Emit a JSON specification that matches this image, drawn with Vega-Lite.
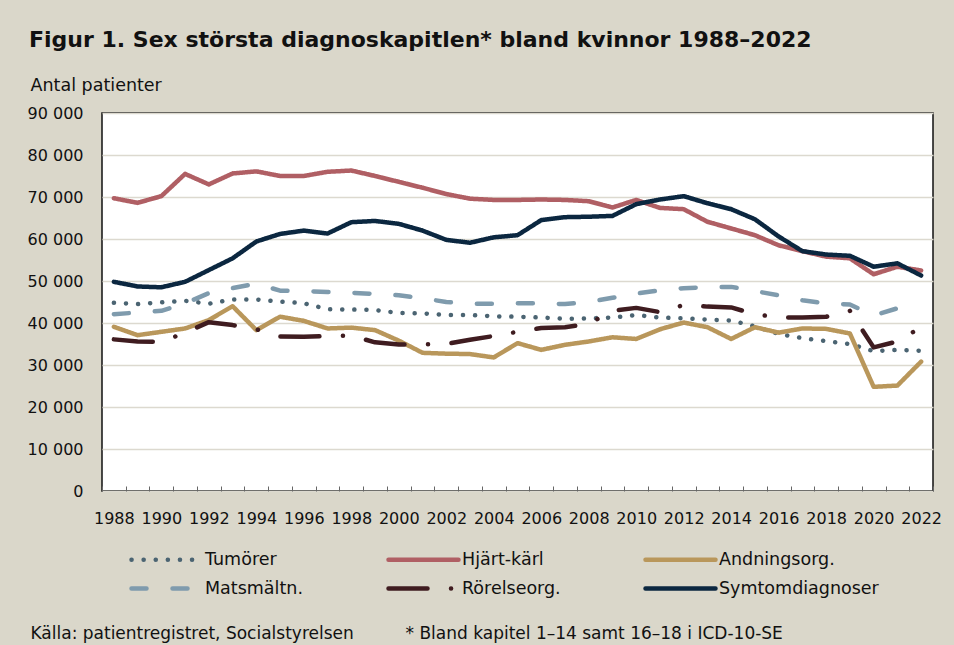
{
  "$schema": "https://vega.github.io/schema/vega-lite/v6.json",
  "width": 831,
  "height": 378,
  "autosize": {"type": "none"},
  "padding": {"left": 102, "top": 113, "right": 21, "bottom": 154},
  "background": "#dad7ca",
  "title": {
    "text": "Figur 1. Sex största diagnoskapitlen* bland kvinnor 1988–2022",
    "anchor": "start",
    "frame": "bounds",
    "font": "DejaVu Sans",
    "fontSize": 22,
    "fontWeight": "bold",
    "color": "#111111",
    "dx": 2,
    "dy": -20
  },
  "datasets": {
    "rows": [
      {"year": 1988, "series": "Tumörer", "value": 44800}, {"year": 1988, "series": "Hjärt-kärl", "value": 69700}, {"year": 1988, "series": "Andningsorg.", "value": 39100}, {"year": 1988, "series": "Matsmältn.", "value": 42100}, {"year": 1988, "series": "Rörelseorg.", "value": 36100}, {"year": 1988, "series": "Symtomdiagnoser", "value": 49800},
      {"year": 1989, "series": "Tumörer", "value": 44500}, {"year": 1989, "series": "Hjärt-kärl", "value": 68600}, {"year": 1989, "series": "Andningsorg.", "value": 37100}, {"year": 1989, "series": "Matsmältn.", "value": 42500}, {"year": 1989, "series": "Rörelseorg.", "value": 35600}, {"year": 1989, "series": "Symtomdiagnoser", "value": 48700},
      {"year": 1990, "series": "Tumörer", "value": 44900}, {"year": 1990, "series": "Hjärt-kärl", "value": 70200}, {"year": 1990, "series": "Andningsorg.", "value": 37900}, {"year": 1990, "series": "Matsmältn.", "value": 42900}, {"year": 1990, "series": "Rörelseorg.", "value": 35500}, {"year": 1990, "series": "Symtomdiagnoser", "value": 48500},
      {"year": 1991, "series": "Tumörer", "value": 45300}, {"year": 1991, "series": "Hjärt-kärl", "value": 75500}, {"year": 1991, "series": "Andningsorg.", "value": 38700}, {"year": 1991, "series": "Matsmältn.", "value": 44700}, {"year": 1991, "series": "Rörelseorg.", "value": 37700}, {"year": 1991, "series": "Symtomdiagnoser", "value": 49800},
      {"year": 1992, "series": "Tumörer", "value": 44600}, {"year": 1992, "series": "Hjärt-kärl", "value": 73000}, {"year": 1992, "series": "Andningsorg.", "value": 40700}, {"year": 1992, "series": "Matsmältn.", "value": 47100}, {"year": 1992, "series": "Rörelseorg.", "value": 40200}, {"year": 1992, "series": "Symtomdiagnoser", "value": 52600},
      {"year": 1993, "series": "Tumörer", "value": 45600}, {"year": 1993, "series": "Hjärt-kärl", "value": 75600}, {"year": 1993, "series": "Andningsorg.", "value": 44000}, {"year": 1993, "series": "Matsmältn.", "value": 48300}, {"year": 1993, "series": "Rörelseorg.", "value": 39500}, {"year": 1993, "series": "Symtomdiagnoser", "value": 55400},
      {"year": 1994, "series": "Tumörer", "value": 45600}, {"year": 1994, "series": "Hjärt-kärl", "value": 76100}, {"year": 1994, "series": "Andningsorg.", "value": 38300}, {"year": 1994, "series": "Matsmältn.", "value": 49400}, {"year": 1994, "series": "Rörelseorg.", "value": 38500}, {"year": 1994, "series": "Symtomdiagnoser", "value": 59400},
      {"year": 1995, "series": "Tumörer", "value": 45100}, {"year": 1995, "series": "Hjärt-kärl", "value": 75000}, {"year": 1995, "series": "Andningsorg.", "value": 41500}, {"year": 1995, "series": "Matsmältn.", "value": 47700}, {"year": 1995, "series": "Rörelseorg.", "value": 36800}, {"year": 1995, "series": "Symtomdiagnoser", "value": 61200},
      {"year": 1996, "series": "Tumörer", "value": 44700}, {"year": 1996, "series": "Hjärt-kärl", "value": 75000}, {"year": 1996, "series": "Andningsorg.", "value": 40500}, {"year": 1996, "series": "Matsmältn.", "value": 47600}, {"year": 1996, "series": "Rörelseorg.", "value": 36700}, {"year": 1996, "series": "Symtomdiagnoser", "value": 62000},
      {"year": 1997, "series": "Tumörer", "value": 43300}, {"year": 1997, "series": "Hjärt-kärl", "value": 76000}, {"year": 1997, "series": "Andningsorg.", "value": 38700}, {"year": 1997, "series": "Matsmältn.", "value": 47400}, {"year": 1997, "series": "Rörelseorg.", "value": 36900}, {"year": 1997, "series": "Symtomdiagnoser", "value": 61300},
      {"year": 1998, "series": "Tumörer", "value": 43200}, {"year": 1998, "series": "Hjärt-kärl", "value": 76300}, {"year": 1998, "series": "Andningsorg.", "value": 38900}, {"year": 1998, "series": "Matsmältn.", "value": 47200}, {"year": 1998, "series": "Rörelseorg.", "value": 37000}, {"year": 1998, "series": "Symtomdiagnoser", "value": 64000},
      {"year": 1999, "series": "Tumörer", "value": 43100}, {"year": 1999, "series": "Hjärt-kärl", "value": 75000}, {"year": 1999, "series": "Andningsorg.", "value": 38300}, {"year": 1999, "series": "Matsmältn.", "value": 46900}, {"year": 1999, "series": "Rörelseorg.", "value": 35400}, {"year": 1999, "series": "Symtomdiagnoser", "value": 64300},
      {"year": 2000, "series": "Tumörer", "value": 42400}, {"year": 2000, "series": "Hjärt-kärl", "value": 73600}, {"year": 2000, "series": "Andningsorg.", "value": 35800}, {"year": 2000, "series": "Matsmältn.", "value": 46600}, {"year": 2000, "series": "Rörelseorg.", "value": 34900}, {"year": 2000, "series": "Symtomdiagnoser", "value": 63600},
      {"year": 2001, "series": "Tumörer", "value": 42300}, {"year": 2001, "series": "Hjärt-kärl", "value": 72200}, {"year": 2001, "series": "Andningsorg.", "value": 32900}, {"year": 2001, "series": "Matsmältn.", "value": 45900}, {"year": 2001, "series": "Rörelseorg.", "value": 34900}, {"year": 2001, "series": "Symtomdiagnoser", "value": 62000},
      {"year": 2002, "series": "Tumörer", "value": 41900}, {"year": 2002, "series": "Hjärt-kärl", "value": 70700}, {"year": 2002, "series": "Andningsorg.", "value": 32700}, {"year": 2002, "series": "Matsmältn.", "value": 45000}, {"year": 2002, "series": "Rörelseorg.", "value": 35000}, {"year": 2002, "series": "Symtomdiagnoser", "value": 59800},
      {"year": 2003, "series": "Tumörer", "value": 41900}, {"year": 2003, "series": "Hjärt-kärl", "value": 69600}, {"year": 2003, "series": "Andningsorg.", "value": 32600}, {"year": 2003, "series": "Matsmältn.", "value": 44600}, {"year": 2003, "series": "Rörelseorg.", "value": 36000}, {"year": 2003, "series": "Symtomdiagnoser", "value": 59100},
      {"year": 2004, "series": "Tumörer", "value": 41600}, {"year": 2004, "series": "Hjärt-kärl", "value": 69300}, {"year": 2004, "series": "Andningsorg.", "value": 31800}, {"year": 2004, "series": "Matsmältn.", "value": 44600}, {"year": 2004, "series": "Rörelseorg.", "value": 36900}, {"year": 2004, "series": "Symtomdiagnoser", "value": 60400},
      {"year": 2005, "series": "Tumörer", "value": 41500}, {"year": 2005, "series": "Hjärt-kärl", "value": 69300}, {"year": 2005, "series": "Andningsorg.", "value": 35200}, {"year": 2005, "series": "Matsmältn.", "value": 44700}, {"year": 2005, "series": "Rörelseorg.", "value": 37900}, {"year": 2005, "series": "Symtomdiagnoser", "value": 60900},
      {"year": 2006, "series": "Tumörer", "value": 41300}, {"year": 2006, "series": "Hjärt-kärl", "value": 69400}, {"year": 2006, "series": "Andningsorg.", "value": 33600}, {"year": 2006, "series": "Matsmältn.", "value": 44700}, {"year": 2006, "series": "Rörelseorg.", "value": 38800}, {"year": 2006, "series": "Symtomdiagnoser", "value": 64500},
      {"year": 2007, "series": "Tumörer", "value": 41000}, {"year": 2007, "series": "Hjärt-kärl", "value": 69300}, {"year": 2007, "series": "Andningsorg.", "value": 34800}, {"year": 2007, "series": "Matsmältn.", "value": 44500}, {"year": 2007, "series": "Rörelseorg.", "value": 39000}, {"year": 2007, "series": "Symtomdiagnoser", "value": 65200},
      {"year": 2008, "series": "Tumörer", "value": 41100}, {"year": 2008, "series": "Hjärt-kärl", "value": 69000}, {"year": 2008, "series": "Andningsorg.", "value": 35600}, {"year": 2008, "series": "Matsmältn.", "value": 45000}, {"year": 2008, "series": "Rörelseorg.", "value": 39800}, {"year": 2008, "series": "Symtomdiagnoser", "value": 65300},
      {"year": 2009, "series": "Tumörer", "value": 41300}, {"year": 2009, "series": "Hjärt-kärl", "value": 67500}, {"year": 2009, "series": "Andningsorg.", "value": 36600}, {"year": 2009, "series": "Matsmältn.", "value": 46000}, {"year": 2009, "series": "Rörelseorg.", "value": 42900}, {"year": 2009, "series": "Symtomdiagnoser", "value": 65500},
      {"year": 2010, "series": "Tumörer", "value": 41900}, {"year": 2010, "series": "Hjärt-kärl", "value": 69300}, {"year": 2010, "series": "Andningsorg.", "value": 36200}, {"year": 2010, "series": "Matsmältn.", "value": 47000}, {"year": 2010, "series": "Rörelseorg.", "value": 43600}, {"year": 2010, "series": "Symtomdiagnoser", "value": 68300},
      {"year": 2011, "series": "Tumörer", "value": 41300}, {"year": 2011, "series": "Hjärt-kärl", "value": 67400}, {"year": 2011, "series": "Andningsorg.", "value": 38500}, {"year": 2011, "series": "Matsmältn.", "value": 47800}, {"year": 2011, "series": "Rörelseorg.", "value": 42600}, {"year": 2011, "series": "Symtomdiagnoser", "value": 69400},
      {"year": 2012, "series": "Tumörer", "value": 41100}, {"year": 2012, "series": "Hjärt-kärl", "value": 67100}, {"year": 2012, "series": "Andningsorg.", "value": 40100}, {"year": 2012, "series": "Matsmältn.", "value": 48300}, {"year": 2012, "series": "Rörelseorg.", "value": 44300}, {"year": 2012, "series": "Symtomdiagnoser", "value": 70200},
      {"year": 2013, "series": "Tumörer", "value": 40800}, {"year": 2013, "series": "Hjärt-kärl", "value": 64100}, {"year": 2013, "series": "Andningsorg.", "value": 39000}, {"year": 2013, "series": "Matsmältn.", "value": 48500}, {"year": 2013, "series": "Rörelseorg.", "value": 43900}, {"year": 2013, "series": "Symtomdiagnoser", "value": 68500},
      {"year": 2014, "series": "Tumörer", "value": 40600}, {"year": 2014, "series": "Hjärt-kärl", "value": 62500}, {"year": 2014, "series": "Andningsorg.", "value": 36200}, {"year": 2014, "series": "Matsmältn.", "value": 48600}, {"year": 2014, "series": "Rörelseorg.", "value": 43700}, {"year": 2014, "series": "Symtomdiagnoser", "value": 67100},
      {"year": 2015, "series": "Tumörer", "value": 39200}, {"year": 2015, "series": "Hjärt-kärl", "value": 60900}, {"year": 2015, "series": "Andningsorg.", "value": 39000}, {"year": 2015, "series": "Matsmältn.", "value": 47600}, {"year": 2015, "series": "Rörelseorg.", "value": 42100}, {"year": 2015, "series": "Symtomdiagnoser", "value": 64700},
      {"year": 2016, "series": "Tumörer", "value": 37400}, {"year": 2016, "series": "Hjärt-kärl", "value": 58500}, {"year": 2016, "series": "Andningsorg.", "value": 37700}, {"year": 2016, "series": "Matsmältn.", "value": 46600}, {"year": 2016, "series": "Rörelseorg.", "value": 41300}, {"year": 2016, "series": "Symtomdiagnoser", "value": 60600},
      {"year": 2017, "series": "Tumörer", "value": 36400}, {"year": 2017, "series": "Hjärt-kärl", "value": 57100}, {"year": 2017, "series": "Andningsorg.", "value": 38700}, {"year": 2017, "series": "Matsmältn.", "value": 45400}, {"year": 2017, "series": "Rörelseorg.", "value": 41300}, {"year": 2017, "series": "Symtomdiagnoser", "value": 57100},
      {"year": 2018, "series": "Tumörer", "value": 35700}, {"year": 2018, "series": "Hjärt-kärl", "value": 55800}, {"year": 2018, "series": "Andningsorg.", "value": 38600}, {"year": 2018, "series": "Matsmältn.", "value": 44700}, {"year": 2018, "series": "Rörelseorg.", "value": 41500}, {"year": 2018, "series": "Symtomdiagnoser", "value": 56300},
      {"year": 2019, "series": "Tumörer", "value": 35000}, {"year": 2019, "series": "Hjärt-kärl", "value": 55400}, {"year": 2019, "series": "Andningsorg.", "value": 37500}, {"year": 2019, "series": "Matsmältn.", "value": 44400}, {"year": 2019, "series": "Rörelseorg.", "value": 42900}, {"year": 2019, "series": "Symtomdiagnoser", "value": 56000},
      {"year": 2020, "series": "Tumörer", "value": 33300}, {"year": 2020, "series": "Hjärt-kärl", "value": 51600}, {"year": 2020, "series": "Andningsorg.", "value": 24800}, {"year": 2020, "series": "Matsmältn.", "value": 41800}, {"year": 2020, "series": "Rörelseorg.", "value": 34200}, {"year": 2020, "series": "Symtomdiagnoser", "value": 53400},
      {"year": 2021, "series": "Tumörer", "value": 33600}, {"year": 2021, "series": "Hjärt-kärl", "value": 53400}, {"year": 2021, "series": "Andningsorg.", "value": 25100}, {"year": 2021, "series": "Matsmältn.", "value": 43500}, {"year": 2021, "series": "Rörelseorg.", "value": 35600}, {"year": 2021, "series": "Symtomdiagnoser", "value": 54200},
      {"year": 2022, "series": "Tumörer", "value": 33400}, {"year": 2022, "series": "Hjärt-kärl", "value": 52500}, {"year": 2022, "series": "Andningsorg.", "value": 30800}, {"year": 2022, "series": "Matsmältn.", "value": 43200}, {"year": 2022, "series": "Rörelseorg.", "value": 39000}, {"year": 2022, "series": "Symtomdiagnoser", "value": 51300}
    ]
  },
  "data": {"name": "rows"},
  "layer": [
    {
      "mark": {"type": "line", "strokeWidth": 4.5, "strokeCap": "round", "strokeJoin": "round"},
      "encoding": {
        "x": {
          "field": "year",
          "type": "ordinal",
          "scale": {"type": "band", "paddingInner": 0, "paddingOuter": 0},
          "axis": {
            "title": "Källa: patientregistret, Socialstyrelsen",
            "titleX": -72,
            "titleY": 147,
            "titleAlign": "left",
            "titleAnchor": "start",
            "titleBaseline": "alphabetic",
            "titleFont": "DejaVu Sans",
            "titleFontSize": 17,
            "titleFontWeight": "normal",
            "titleColor": "#111111",
            "tickBand": "extent",
            "tickSize": -5,
            "tickColor": "#666666",
            "tickWidth": 1,
            "domain": false,
            "labelAngle": 0,
            "labelOverlap": false,
            "labelExpr": "datum.value % 2 == 0 ? datum.label : ''",
            "labelPadding": 24,
            "labelFont": "DejaVu Sans",
            "labelFontSize": 16,
            "labelColor": "#111111"
          }
        },
        "y": {
          "field": "value",
          "type": "quantitative",
          "scale": {"domain": [0, 90000], "nice": false},
          "axis": {
            "title": "Antal patienter",
            "titleAngle": 0,
            "titleAlign": "left",
            "titleAnchor": "start",
            "titleBaseline": "alphabetic",
            "titleX": -72,
            "titleY": -23,
            "titleFont": "DejaVu Sans",
            "titleFontSize": 17.5,
            "titleFontWeight": "normal",
            "titleColor": "#111111",
            "values": [0, 10000, 20000, 30000, 40000, 50000, 60000, 70000, 80000, 90000],
            "labelExpr": "replace(format(datum.value, ',d'), ',', ' ')",
            "ticks": false,
            "domain": false,
            "labelPadding": 19,
            "labelFont": "DejaVu Sans",
            "labelFontSize": 16,
            "labelColor": "#111111",
            "grid": true,
            "gridColor": "#dcd9cf",
            "gridWidth": 1.5
          }
        },
        "color": {
          "field": "series",
          "type": "nominal",
          "scale": {
            "domain": ["Tumörer", "Hjärt-kärl", "Andningsorg.", "Matsmältn.", "Rörelseorg.", "Symtomdiagnoser"],
            "range": ["#4b6472", "#b05f64", "#b9975b", "#7f9bad", "#3f1c20", "#0b2740"]
          },
          "legend": {
            "title": null,
            "orient": "none",
            "legendX": 52,
            "legendY": 434,
            "direction": "horizontal",
            "columns": 3,
            "gridAlign": "all",
            "columnPadding": 14,
            "rowPadding": 7,
            "padding": 0,
            "symbolType": "M-3.5,0H3.5",
            "symbolSize": 400,
            "symbolStrokeWidth": 4.5,
            "labelOffset": 26,
            "labelFont": "DejaVu Sans",
            "labelFontSize": 17.5,
            "labelColor": "#111111",
            "labelLimit": 220,
            "encode": {"symbols": {"update": {"strokeCap": {"value": "round"}}}}
          }
        },
        "strokeDash": {
          "field": "series",
          "type": "nominal",
          "scale": {
            "domain": ["Tumörer", "Hjärt-kärl", "Andningsorg.", "Matsmältn.", "Rörelseorg.", "Symtomdiagnoser"],
            "range": [[0.1, 12], [1, 0], [1, 0], [15, 26], [39, 23.5, 0.1, 23.5], [1, 0]]
          }
        }
      }
    },
    {
      "mark": {"type": "rule", "opacity": 0},
      "encoding": {
        "x": {
          "field": "year",
          "type": "ordinal",
          "axis": {
            "orient": "top",
            "title": "* Bland kapitel 1–14 samt 16–18 i ICD-10-SE",
            "titleX": 303,
            "titleY": 525,
            "titleAlign": "left",
            "titleAnchor": "start",
            "titleBaseline": "alphabetic",
            "titleFont": "DejaVu Sans",
            "titleFontSize": 17,
            "titleFontWeight": "normal",
            "titleColor": "#111111",
            "labels": false,
            "ticks": false,
            "domain": false,
            "grid": false
          }
        }
      }
    }
  ],
  "resolve": {"axis": {"x": "independent"}},
  "config": {
    "view": {"fill": "white", "stroke": "#111111", "strokeWidth": 1.5}
  }
}
